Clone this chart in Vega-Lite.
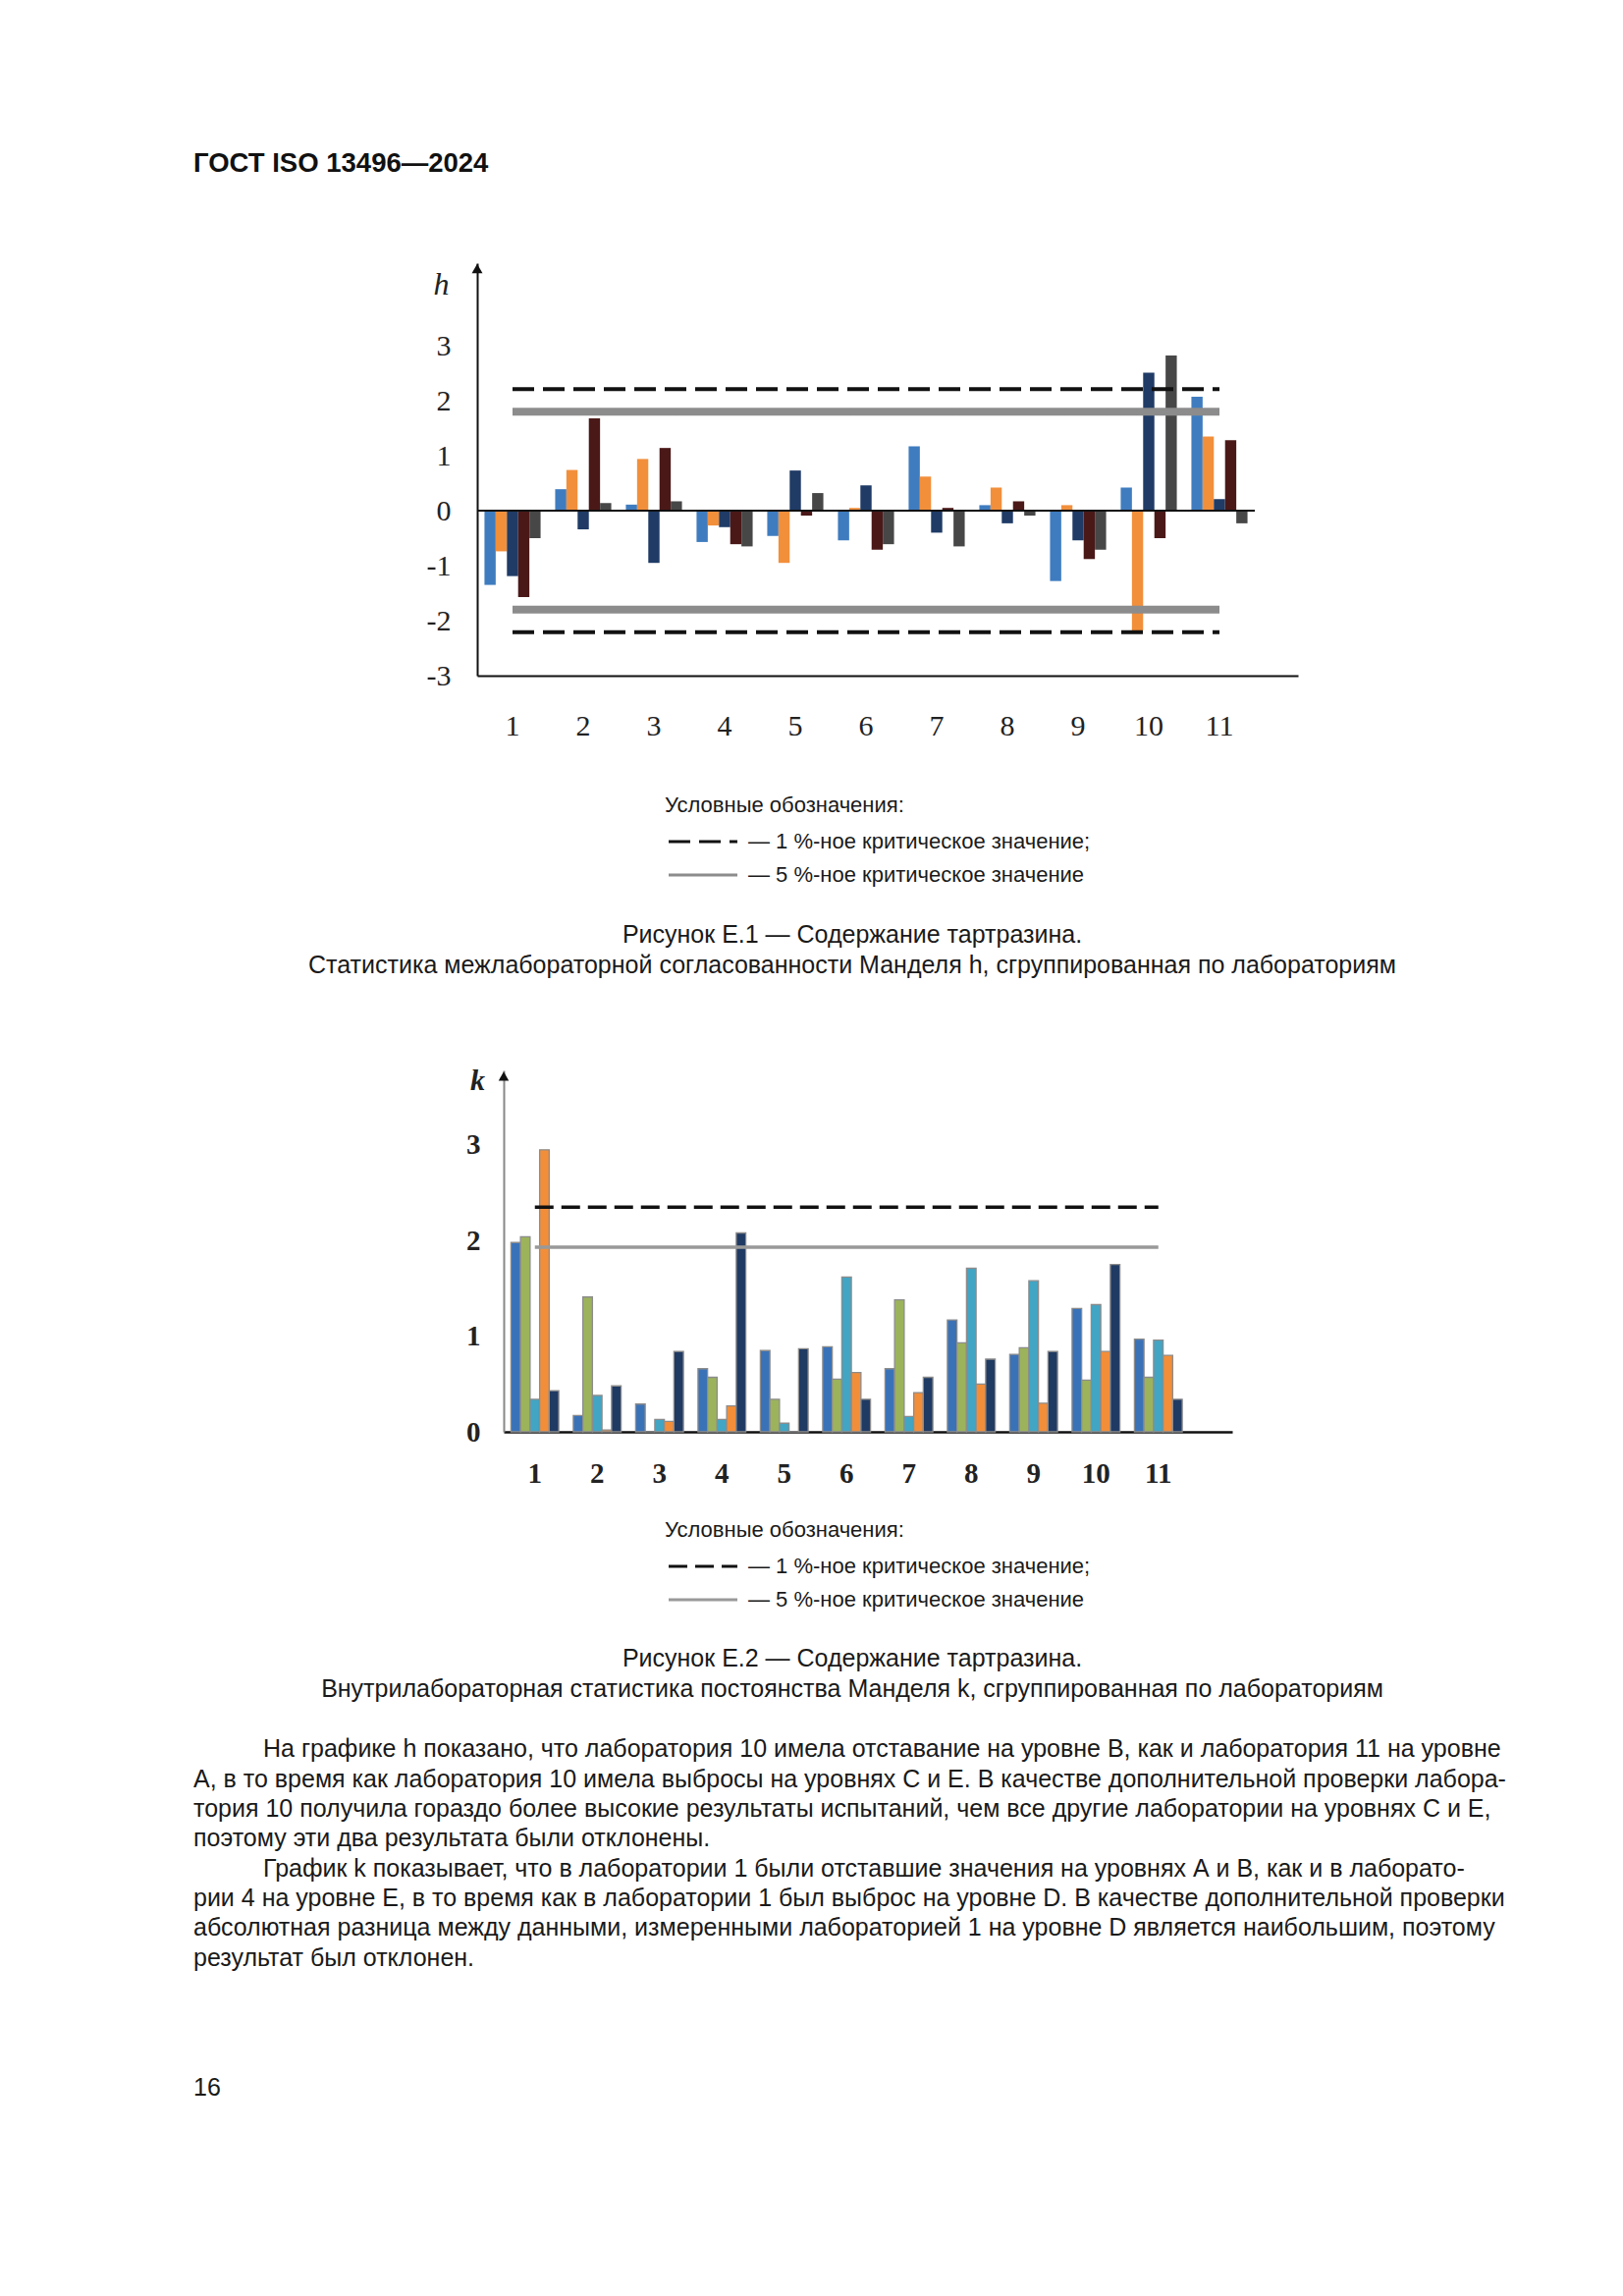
{
  "$schema": "https://vega.github.io/schema/vega-lite/v6.json",
  "background": "white",
  "padding": 0,
  "bounds": "flush",
  "spacing": 0,
  "config": {
    "view": {"stroke": null},
    "concat": {"spacing": 0}
  },
  "resolve": {
    "scale": {"color": "independent", "xOffset": "independent", "stroke": "independent", "strokeDash": "independent", "strokeWidth": "independent"},
    "legend": {"stroke": "independent", "strokeDash": "independent"}
  },
  "datasets": {
    "h_values": [
      {"lab": 1, "level": "A", "h": -1.35}, {"lab": 1, "level": "B", "h": -0.74}, {"lab": 1, "level": "C", "h": -1.19}, {"lab": 1, "level": "D", "h": -1.57}, {"lab": 1, "level": "E", "h": -0.50},
      {"lab": 2, "level": "A", "h": 0.39}, {"lab": 2, "level": "B", "h": 0.74}, {"lab": 2, "level": "C", "h": -0.34}, {"lab": 2, "level": "D", "h": 1.68}, {"lab": 2, "level": "E", "h": 0.14},
      {"lab": 3, "level": "A", "h": 0.11}, {"lab": 3, "level": "B", "h": 0.94}, {"lab": 3, "level": "C", "h": -0.95}, {"lab": 3, "level": "D", "h": 1.14}, {"lab": 3, "level": "E", "h": 0.17},
      {"lab": 4, "level": "A", "h": -0.57}, {"lab": 4, "level": "B", "h": -0.27}, {"lab": 4, "level": "C", "h": -0.30}, {"lab": 4, "level": "D", "h": -0.61}, {"lab": 4, "level": "E", "h": -0.65},
      {"lab": 5, "level": "A", "h": -0.46}, {"lab": 5, "level": "B", "h": -0.95}, {"lab": 5, "level": "C", "h": 0.73}, {"lab": 5, "level": "D", "h": -0.09}, {"lab": 5, "level": "E", "h": 0.32},
      {"lab": 6, "level": "A", "h": -0.54}, {"lab": 6, "level": "B", "h": 0.05}, {"lab": 6, "level": "C", "h": 0.46}, {"lab": 6, "level": "D", "h": -0.71}, {"lab": 6, "level": "E", "h": -0.61},
      {"lab": 7, "level": "A", "h": 1.17}, {"lab": 7, "level": "B", "h": 0.62}, {"lab": 7, "level": "C", "h": -0.40}, {"lab": 7, "level": "D", "h": 0.05}, {"lab": 7, "level": "E", "h": -0.65},
      {"lab": 8, "level": "A", "h": 0.10}, {"lab": 8, "level": "B", "h": 0.42}, {"lab": 8, "level": "C", "h": -0.23}, {"lab": 8, "level": "D", "h": 0.17}, {"lab": 8, "level": "E", "h": -0.09},
      {"lab": 9, "level": "A", "h": -1.28}, {"lab": 9, "level": "B", "h": 0.10}, {"lab": 9, "level": "C", "h": -0.54}, {"lab": 9, "level": "D", "h": -0.88}, {"lab": 9, "level": "E", "h": -0.71},
      {"lab": 10, "level": "A", "h": 0.42}, {"lab": 10, "level": "B", "h": -2.18}, {"lab": 10, "level": "C", "h": 2.51}, {"lab": 10, "level": "D", "h": -0.50}, {"lab": 10, "level": "E", "h": 2.82},
      {"lab": 11, "level": "A", "h": 2.07}, {"lab": 11, "level": "B", "h": 1.35}, {"lab": 11, "level": "C", "h": 0.21}, {"lab": 11, "level": "D", "h": 1.28}, {"lab": 11, "level": "E", "h": -0.23}
    ],
    "k_values": [
      {"lab": 1, "level": "A", "k": 1.98}, {"lab": 1, "level": "B", "k": 2.04}, {"lab": 1, "level": "C", "k": 0.34}, {"lab": 1, "level": "D", "k": 2.95}, {"lab": 1, "level": "E", "k": 0.43},
      {"lab": 2, "level": "A", "k": 0.17}, {"lab": 2, "level": "B", "k": 1.41}, {"lab": 2, "level": "C", "k": 0.38}, {"lab": 2, "level": "D", "k": 0.02}, {"lab": 2, "level": "E", "k": 0.48},
      {"lab": 3, "level": "A", "k": 0.29}, {"lab": 3, "level": "B", "k": 0.0}, {"lab": 3, "level": "C", "k": 0.13}, {"lab": 3, "level": "D", "k": 0.11}, {"lab": 3, "level": "E", "k": 0.84},
      {"lab": 4, "level": "A", "k": 0.66}, {"lab": 4, "level": "B", "k": 0.57}, {"lab": 4, "level": "C", "k": 0.13}, {"lab": 4, "level": "D", "k": 0.27}, {"lab": 4, "level": "E", "k": 2.08},
      {"lab": 5, "level": "A", "k": 0.85}, {"lab": 5, "level": "B", "k": 0.34}, {"lab": 5, "level": "C", "k": 0.09}, {"lab": 5, "level": "D", "k": 0.0}, {"lab": 5, "level": "E", "k": 0.87},
      {"lab": 6, "level": "A", "k": 0.89}, {"lab": 6, "level": "B", "k": 0.55}, {"lab": 6, "level": "C", "k": 1.62}, {"lab": 6, "level": "D", "k": 0.62}, {"lab": 6, "level": "E", "k": 0.34},
      {"lab": 7, "level": "A", "k": 0.66}, {"lab": 7, "level": "B", "k": 1.38}, {"lab": 7, "level": "C", "k": 0.16}, {"lab": 7, "level": "D", "k": 0.41}, {"lab": 7, "level": "E", "k": 0.57},
      {"lab": 8, "level": "A", "k": 1.17}, {"lab": 8, "level": "B", "k": 0.93}, {"lab": 8, "level": "C", "k": 1.71}, {"lab": 8, "level": "D", "k": 0.50}, {"lab": 8, "level": "E", "k": 0.76},
      {"lab": 9, "level": "A", "k": 0.81}, {"lab": 9, "level": "B", "k": 0.88}, {"lab": 9, "level": "C", "k": 1.58}, {"lab": 9, "level": "D", "k": 0.30}, {"lab": 9, "level": "E", "k": 0.84},
      {"lab": 10, "level": "A", "k": 1.29}, {"lab": 10, "level": "B", "k": 0.54}, {"lab": 10, "level": "C", "k": 1.33}, {"lab": 10, "level": "D", "k": 0.84}, {"lab": 10, "level": "E", "k": 1.75},
      {"lab": 11, "level": "A", "k": 0.97}, {"lab": 11, "level": "B", "k": 0.57}, {"lab": 11, "level": "C", "k": 0.96}, {"lab": 11, "level": "D", "k": 0.80}, {"lab": 11, "level": "E", "k": 0.34}
    ],
    "h_crit": [
      {"crit": "1 %", "h": 2.21}, {"crit": "1 %", "h": -2.21},
      {"crit": "5 %", "h": 1.80}, {"crit": "5 %", "h": -1.80}
    ],
    "k_crit": [
      {"crit": "1 %", "k": 2.35}, {"crit": "5 %", "k": 1.93}
    ],
    "caption1": [
      {"line": 1, "text": "Рисунок Е.1 — Содержание тартразина."},
      {"line": 2, "text": "Статистика межлабораторной согласованности Манделя h, сгруппированная по лабораториям"}
    ],
    "caption2": [
      {"line": 1, "text": "Рисунок Е.2 — Содержание тартразина."},
      {"line": 2, "text": "Внутрилабораторная статистика постоянства Манделя k, сгруппированная по лабораториям"}
    ],
    "paragraphs": [
      {"line": 1, "indent": true, "text": "На графике h показано, что лаборатория 10 имела отставание на уровне В, как и лаборатория 11 на уровне"},
      {"line": 2, "indent": false, "text": "А, в то время как лаборатория 10 имела выбросы на уровнях С и Е. В качестве дополнительной проверки лабора-"},
      {"line": 3, "indent": false, "text": "тория 10 получила гораздо более высокие результаты испытаний, чем все другие лаборатории на уровнях С и Е,"},
      {"line": 4, "indent": false, "text": "поэтому эти два результата были отклонены."},
      {"line": 5, "indent": true, "text": "График k показывает, что в лаборатории 1 были отставшие значения на уровнях А и В, как и в лаборато-"},
      {"line": 6, "indent": false, "text": "рии 4 на уровне Е, в то время как в лаборатории 1 был выброс на уровне D. В качестве дополнительной проверки"},
      {"line": 7, "indent": false, "text": "абсолютная разница между данными, измеренными лабораторией 1 на уровне D является наибольшим, поэтому"},
      {"line": 8, "indent": false, "text": "результат был отклонен."}
    ]
  },
  "vconcat": [
    {"width": 1, "height": 137, "data": {"values": []}, "mark": "point", "encoding": {}},
    {
      "bounds": "flush", "spacing": 0,
      "hconcat": [
        {"width": 197, "height": 1, "data": {"values": []}, "mark": "point", "encoding": {}},
        {
          "width": 1342, "height": 60,
          "data": {"values": [{"text": "ГОСТ ISO 13496—2024"}]},
          "mark": {"type": "text", "align": "left", "baseline": "middle", "font": "Liberation Sans", "fontWeight": "bold", "fontSize": 27.5, "color": "#111111"},
          "encoding": {
            "text": {"field": "text"},
            "x": {"datum": 0, "type": "quantitative", "scale": {"domain": [0, 1]}, "axis": null}
          }
        }
      ]
    },
    {"width": 1, "height": 131, "data": {"values": []}, "mark": "point", "encoding": {}},
    {
      "bounds": "flush", "spacing": 0,
      "resolve": {
        "scale": {"color": "independent", "xOffset": "independent", "stroke": "independent", "strokeDash": "independent", "strokeWidth": "independent"},
        "legend": {"stroke": "independent", "strokeDash": "independent"}
      },
      "hconcat": [
        {"width": 486, "height": 1, "data": {"values": []}, "mark": "point", "encoding": {}},
        {
          "width": 836, "height": 420,
          "layer": [
            {
              "data": {"name": "h_values"},
              "mark": {"type": "bar"},
              "encoding": {
                "x": {"field": "lab", "type": "ordinal",
                  "scale": {"type": "band", "paddingInner": 0, "paddingOuter": 0.3056, "align": 0},
                  "axis": {"title": null, "labelAngle": 0, "labelFont": "Liberation Serif", "labelFontSize": 30, "labelColor": "#222222", "labelPadding": 51, "labelBaseline": "middle", "ticks": false, "tickSize": 0, "domainColor": "#111111", "domainWidth": 2}},
                "xOffset": {"field": "level", "type": "nominal", "scale": {"paddingInner": 0, "paddingOuter": 0.65}},
                "y": {"field": "h", "type": "quantitative",
                  "scale": {"domain": [-3, 4.5], "nice": false, "zero": false},
                  "axis": {"title": "h", "titleAngle": 0, "titleX": -37, "titleY": 21, "titleAlign": "center", "titleBaseline": "middle", "titleFont": "Liberation Serif", "titleFontStyle": "italic", "titleFontWeight": "normal", "titleFontSize": 32, "titleColor": "#222222",
                    "values": [-3, -2, -1, 0, 1, 2, 3], "labelExpr": "datum.value + ''", "labelFont": "Liberation Serif", "labelFontSize": 30, "labelColor": "#222222", "labelPadding": 27, "ticks": false, "tickSize": 0, "grid": false, "domainColor": "#111111", "domainWidth": 2}},
                "color": {"field": "level", "type": "nominal",
                  "scale": {"domain": ["A", "B", "C", "D", "E"], "range": ["#3F7CBF", "#F28F3B", "#1F3B66", "#4B1818", "#474747"]},
                  "legend": null}
              }
            },
            {
              "data": {"values": [{}]},
              "mark": {"type": "rule", "color": "#111111", "strokeWidth": 2},
              "encoding": {
                "x": {"datum": 1, "type": "ordinal", "bandPosition": 0},
                "x2": {"datum": 11, "bandPosition": 1},
                "y": {"datum": 0, "type": "quantitative"}
              }
            },
            {
              "data": {"name": "h_crit"},
              "transform": [{"filter": "datum.crit == '5 %'"}],
              "mark": {"type": "rule", "strokeWidth": 8},
              "encoding": {
                "x": {"datum": 1, "type": "ordinal", "bandPosition": 0.5},
                "x2": {"datum": 11, "bandPosition": 0.5},
                "y": {"field": "h", "type": "quantitative"},
                "stroke": {"field": "crit", "type": "nominal"},
                "strokeDash": {"field": "crit", "type": "nominal"}
              }
            },
            {
              "data": {"name": "h_crit"},
              "transform": [{"filter": "datum.crit == '1 %'"}],
              "mark": {"type": "rule", "strokeWidth": 4},
              "encoding": {
                "x": {"datum": 1, "type": "ordinal", "bandPosition": 0.5},
                "x2": {"datum": 11, "bandPosition": 0.5},
                "y": {"field": "h", "type": "quantitative"},
                "stroke": {"field": "crit", "type": "nominal",
                  "scale": {"domain": ["1 %", "5 %"], "range": ["#111111", "#8c8c8c"]},
                  "legend": {"orient": "none", "legendX": 191, "legendY": 542, "direction": "vertical", "title": "Условные обозначения:", "titleFont": "Liberation Sans", "titleFontSize": 22, "titleFontWeight": "normal", "titleColor": "#1a1a1a", "titlePadding": 14, "titleLimit": 1000, "labelFont": "Liberation Sans", "labelFontSize": 22, "labelColor": "#1a1a1a", "labelLimit": 1000, "labelOffset": 63, "rowPadding": 12, "padding": 0, "symbolType": "M-1,0H9", "symbolSize": 196, "symbolStrokeWidth": 3,
                    "labelExpr": "datum.label == '1 %' ? '— 1 %-ное критическое значение;' : '— 5 %-ное критическое значение'"}},
                "strokeDash": {"field": "crit", "type": "nominal",
                  "scale": {"domain": ["1 %", "5 %"], "range": [[22, 9], [1, 0]]},
                  "legend": {"orient": "none", "legendX": 191, "legendY": 542, "direction": "vertical", "title": "Условные обозначения:", "titleFont": "Liberation Sans", "titleFontSize": 22, "titleFontWeight": "normal", "titleColor": "#1a1a1a", "titlePadding": 14, "titleLimit": 1000, "labelFont": "Liberation Sans", "labelFontSize": 22, "labelColor": "#1a1a1a", "labelLimit": 1000, "labelOffset": 63, "rowPadding": 12, "padding": 0, "symbolType": "M-1,0H9", "symbolSize": 196, "symbolStrokeWidth": 3,
                    "labelExpr": "datum.label == '1 %' ? '— 1 %-ное критическое значение;' : '— 5 %-ное критическое значение'"}}
              }
            },
            {
              "data": {"values": [{}]},
              "mark": {"type": "point", "shape": "triangle-up", "filled": true, "color": "#111111", "size": 120, "opacity": 1},
              "encoding": {
                "x": {"datum": 1, "type": "ordinal", "bandPosition": 0},
                "y": {"datum": 4.4, "type": "quantitative"}
              }
            }
          ]
        }
      ]
    },
    {"width": 1, "height": 668, "data": {"values": []}, "mark": "point", "encoding": {}},
    {
      "bounds": "flush", "spacing": 0,
      "hconcat": [
        {"width": 197, "height": 1, "data": {"values": []}, "mark": "point", "encoding": {}},
        {
          "width": 1342, "height": 62,
          "data": {"name": "caption1"},
          "mark": {"type": "text", "align": "center", "baseline": "middle", "font": "Liberation Sans", "fontSize": 25, "color": "#1a1a1a"},
          "encoding": {
            "text": {"field": "text"},
            "y": {"field": "line", "type": "ordinal", "scale": {"type": "point", "padding": 0.5, "domain": [1, 2]}, "axis": null}
          }
        }
      ]
    },
    {"width": 1, "height": 154, "data": {"values": []}, "mark": "point", "encoding": {}},
    {
      "bounds": "flush", "spacing": 0,
      "resolve": {
        "scale": {"color": "independent", "xOffset": "independent", "stroke": "independent", "strokeDash": "independent", "strokeWidth": "independent"},
        "legend": {"stroke": "independent", "strokeDash": "independent"}
      },
      "hconcat": [
        {"width": 513, "height": 1, "data": {"values": []}, "mark": "point", "encoding": {}},
        {
          "width": 742, "height": 368,
          "layer": [
            {
              "data": {"name": "k_values"},
              "mark": {"type": "bar", "stroke": "#8c8c8c", "strokeWidth": 1.3},
              "encoding": {
                "x": {"field": "lab", "type": "ordinal",
                  "scale": {"type": "band", "paddingInner": 0, "paddingOuter": 0.3425, "align": 0},
                  "axis": {"title": null, "labelAngle": 0, "labelFont": "Liberation Serif", "labelFontWeight": "bold", "labelFontSize": 29, "labelColor": "#222222", "labelPadding": 42, "labelBaseline": "middle", "ticks": false, "tickSize": 0, "domainColor": "#111111", "domainWidth": 2.5}},
                "xOffset": {"field": "level", "type": "nominal", "scale": {"paddingInner": 0, "paddingOuter": 0.76}},
                "y": {"field": "k", "type": "quantitative",
                  "scale": {"domain": [0, 3.78], "nice": false, "zero": false},
                  "axis": {"title": "k", "titleAngle": 0, "titleX": -27, "titleY": 10, "titleAlign": "center", "titleBaseline": "middle", "titleFont": "Liberation Serif", "titleFontStyle": "italic", "titleFontWeight": "bold", "titleFontSize": 30, "titleColor": "#222222",
                    "values": [0, 1, 2, 3], "labelExpr": "datum.value + ''", "labelFont": "Liberation Serif", "labelFontWeight": "bold", "labelFontSize": 29, "labelColor": "#222222", "labelPadding": 24, "ticks": false, "tickSize": 0, "grid": false, "domainColor": "#888888", "domainWidth": 2}},
                "color": {"field": "level", "type": "nominal",
                  "scale": {"domain": ["A", "B", "C", "D", "E"], "range": ["#3A72B8", "#9CB35C", "#42A5C4", "#F28E3A", "#1F3A63"]},
                  "legend": null}
              }
            },
            {
              "data": {"name": "k_crit"},
              "mark": {"type": "rule", "strokeWidth": 3.5},
              "encoding": {
                "x": {"datum": 1, "type": "ordinal", "bandPosition": 0.5},
                "x2": {"datum": 11, "bandPosition": 0.5},
                "y": {"field": "k", "type": "quantitative"},
                "stroke": {"field": "crit", "type": "nominal",
                  "scale": {"domain": ["1 %", "5 %"], "range": ["#111111", "#999999"]},
                  "legend": {"orient": "none", "legendX": 164, "legendY": 458, "direction": "vertical", "title": "Условные обозначения:", "titleFont": "Liberation Sans", "titleFontSize": 22, "titleFontWeight": "normal", "titleColor": "#1a1a1a", "titlePadding": 14, "titleLimit": 1000, "labelFont": "Liberation Sans", "labelFontSize": 22, "labelColor": "#1a1a1a", "labelLimit": 1000, "labelOffset": 63, "rowPadding": 12, "padding": 0, "symbolType": "M-1,0H9", "symbolSize": 196, "symbolStrokeWidth": 3,
                    "labelExpr": "datum.label == '1 %' ? '— 1 %-ное критическое значение;' : '— 5 %-ное критическое значение'"}},
                "strokeDash": {"field": "crit", "type": "nominal",
                  "scale": {"domain": ["1 %", "5 %"], "range": [[19, 8], [1, 0]]},
                  "legend": {"orient": "none", "legendX": 164, "legendY": 458, "direction": "vertical", "title": "Условные обозначения:", "titleFont": "Liberation Sans", "titleFontSize": 22, "titleFontWeight": "normal", "titleColor": "#1a1a1a", "titlePadding": 14, "titleLimit": 1000, "labelFont": "Liberation Sans", "labelFontSize": 22, "labelColor": "#1a1a1a", "labelLimit": 1000, "labelOffset": 63, "rowPadding": 12, "padding": 0, "symbolType": "M-1,0H9", "symbolSize": 196, "symbolStrokeWidth": 3,
                    "labelExpr": "datum.label == '1 %' ? '— 1 %-ное критическое значение;' : '— 5 %-ное критическое значение'"}}
              }
            },
            {
              "data": {"values": [{}]},
              "mark": {"type": "point", "shape": "triangle-up", "filled": true, "color": "#111111", "size": 110, "opacity": 1},
              "encoding": {
                "x": {"datum": 1, "type": "ordinal", "bandPosition": 0},
                "y": {"datum": 3.72, "type": "quantitative"}
              }
            }
          ]
        }
      ]
    },
    {"width": 1, "height": 584, "data": {"values": []}, "mark": "point", "encoding": {}},
    {
      "bounds": "flush", "spacing": 0,
      "hconcat": [
        {"width": 197, "height": 1, "data": {"values": []}, "mark": "point", "encoding": {}},
        {
          "width": 1342, "height": 61,
          "data": {"name": "caption2"},
          "mark": {"type": "text", "align": "center", "baseline": "middle", "font": "Liberation Sans", "fontSize": 25, "color": "#1a1a1a"},
          "encoding": {
            "text": {"field": "text"},
            "y": {"field": "line", "type": "ordinal", "scale": {"type": "point", "padding": 0.5, "domain": [1, 2]}, "axis": null}
          }
        }
      ]
    },
    {"width": 1, "height": 92, "data": {"values": []}, "mark": "point", "encoding": {}},
    {
      "bounds": "flush", "spacing": 0,
      "hconcat": [
        {"width": 197, "height": 1, "data": {"values": []}, "mark": "point", "encoding": {}},
        {
          "width": 1342, "height": 243,
          "data": {"name": "paragraphs"},
          "encoding": {
            "text": {"field": "text"},
            "x": {"datum": 0, "type": "quantitative", "scale": {"domain": [0, 1]}, "axis": null},
            "y": {"field": "line", "type": "ordinal", "scale": {"type": "point", "padding": 0.5, "domain": [1, 2, 3, 4, 5, 6, 7, 8]}, "axis": null}
          },
          "layer": [
            {
              "transform": [{"filter": "datum.indent"}],
              "mark": {"type": "text", "align": "left", "baseline": "middle", "dx": 71, "font": "Liberation Sans", "fontSize": 25, "color": "#1a1a1a"}
            },
            {
              "transform": [{"filter": "!datum.indent"}],
              "mark": {"type": "text", "align": "left", "baseline": "middle", "font": "Liberation Sans", "fontSize": 25, "color": "#1a1a1a"}
            }
          ]
        }
      ]
    },
    {"width": 1, "height": 345, "data": {"values": []}, "mark": "point", "encoding": {}},
    {
      "bounds": "flush", "spacing": 0,
      "hconcat": [
        {"width": 197, "height": 1, "data": {"values": []}, "mark": "point", "encoding": {}},
        {
          "width": 1342, "height": 30,
          "data": {"values": [{"text": "16"}]},
          "mark": {"type": "text", "align": "left", "baseline": "middle", "font": "Liberation Sans", "fontSize": 25, "color": "#1a1a1a"},
          "encoding": {
            "text": {"field": "text"},
            "x": {"datum": 0, "type": "quantitative", "scale": {"domain": [0, 1]}, "axis": null}
          }
        }
      ]
    },
    {"width": 1, "height": 227, "data": {"values": []}, "mark": "point", "encoding": {}}
  ]
}
